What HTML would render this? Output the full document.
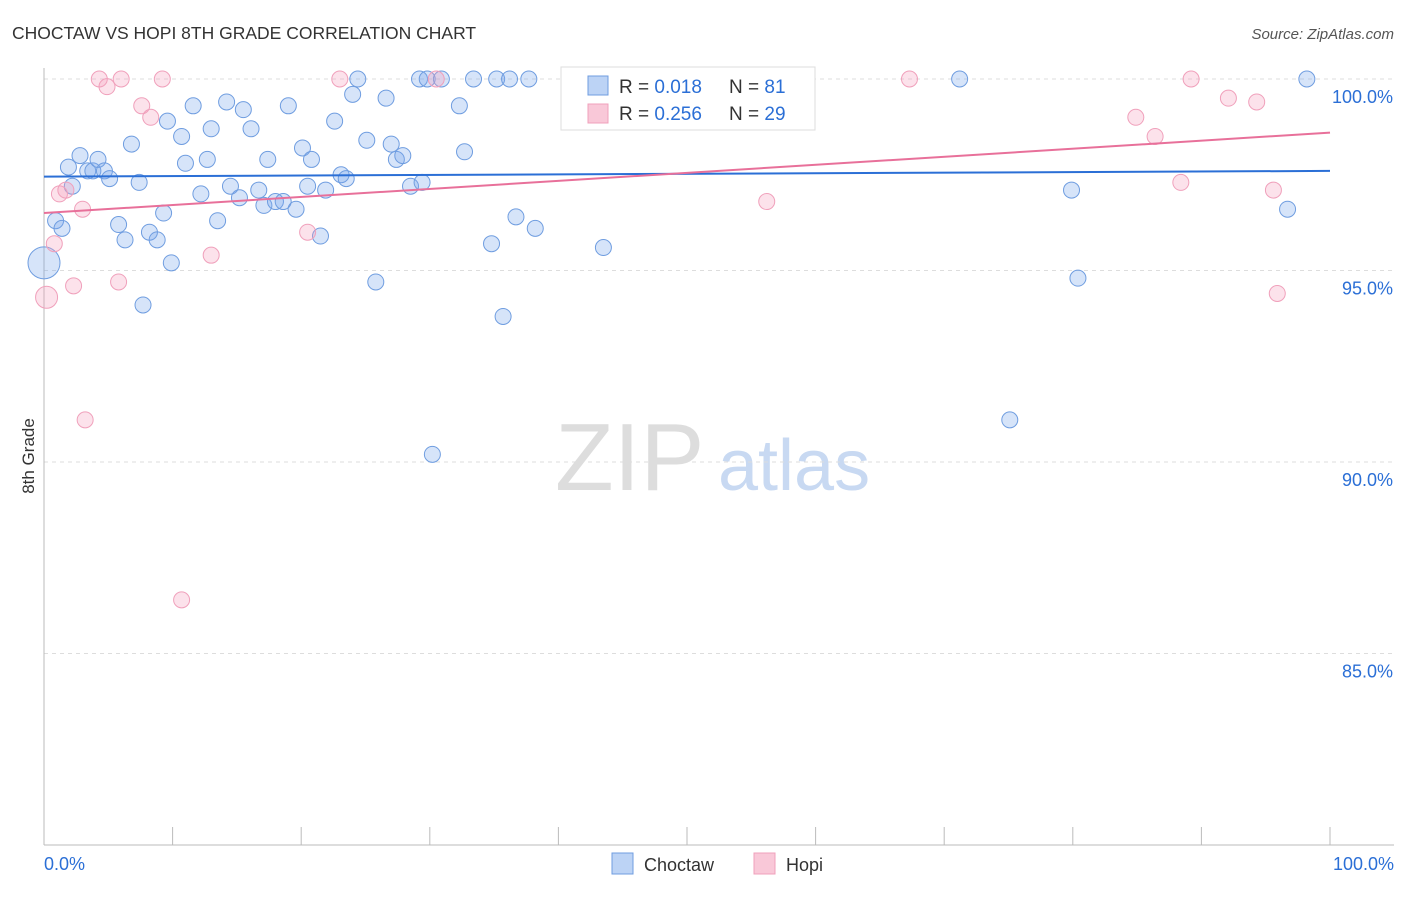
<!DOCTYPE html>
<html><head><meta charset="utf-8"><style>
body{margin:0;background:#fff;font-family:"Liberation Sans",sans-serif;}
svg text{font-family:"Liberation Sans",sans-serif;}
</style></head><body>
<svg id="chart" width="1406" height="892">
<text x="12" y="39" font-size="17.5" fill="#333">CHOCTAW VS HOPI 8TH GRADE CORRELATION CHART</text>
<text x="1394" y="39" font-size="15" fill="#555" text-anchor="end" font-style="italic">Source: ZipAtlas.com</text>
<text x="34" y="456" font-size="17" fill="#333" text-anchor="middle" transform="rotate(-90 34 456)">8th Grade</text>
<g>
<text x="555" y="490" font-size="96" fill="#ddd" font-family="Liberation Serif">ZIP</text>
<text x="718" y="490" font-size="72" fill="#c8d9f2">atlas</text>
</g>
<g id="grid"></g><g id="axes"></g><g id="pts"></g><g id="lines"></g>
<g>
<rect x="561" y="67" width="254" height="63" fill="#fff" stroke="#ddd"/>
<rect x="588" y="76" width="20" height="19" fill="#bcd3f5" stroke="#6f9de0"/>
<text x="619" y="93" font-size="19" fill="#333">R = <tspan fill="#2b6fd6">0.018</tspan><tspan x="729">N = </tspan><tspan fill="#2b6fd6">81</tspan></text>
<rect x="588" y="104" width="20" height="19" fill="#f9c8d8" stroke="#f0a0bb"/>
<text x="619" y="120" font-size="19" fill="#333">R = <tspan fill="#2b6fd6">0.256</tspan><tspan x="729">N = </tspan><tspan fill="#2b6fd6">29</tspan></text>
</g>
<g>
<rect x="612" y="853" width="21" height="21" fill="#bcd3f5" stroke="#6f9de0"/>
<text x="644" y="871" font-size="18" fill="#333">Choctaw</text>
<rect x="754" y="853" width="21" height="21" fill="#f9c8d8" stroke="#f0a0bb"/>
<text x="786" y="871" font-size="18" fill="#333">Hopi</text>
</g>
</svg>
<script>
const yTicks=[100,95,90,85];
const yTickLabels=["100.0%","95.0%","90.0%","85.0%"];
const xTicks=[0,10,20,30,40,50,60,70,80,90,100];
const blueX=[0.9,1.4,1.9,2.2,2.8,3.4,3.8,4.2,4.7,5.1,5.8,6.3,6.8,7.4,7.7,8.2,8.8,9.3,9.6,9.9,10.7,11.0,11.6,12.2,12.7,13.0,13.5,14.2,14.5,15.2,15.5,16.1,16.7,17.1,17.4,18.0,18.6,19.0,19.6,20.1,20.5,20.8,21.5,21.9,22.6,23.1,23.5,24.0,24.4,25.1,25.8,26.6,27.0,27.4,27.9,28.5,29.2,29.4,29.8,30.2,30.9,32.3,32.7,33.4,34.8,35.2,35.7,36.2,36.7,37.7,38.2,43.5,45.5,71.2,75.1,79.9,80.4,96.7,98.2,0.0];
const blueY=[96.3,96.1,97.7,97.2,98.0,97.6,97.6,97.9,97.6,97.4,96.2,95.8,98.3,97.3,94.1,96.0,95.8,96.5,98.9,95.2,98.5,97.8,99.3,97.0,97.9,98.7,96.3,99.4,97.2,96.9,99.2,98.7,97.1,96.7,97.9,96.8,96.8,99.3,96.6,98.2,97.2,97.9,95.9,97.1,98.9,97.5,97.4,99.6,100,98.4,94.7,99.5,98.3,97.9,98.0,97.2,100,97.3,100,90.2,100,99.3,98.1,100,95.7,100,93.8,100,96.4,100,96.1,95.6,100,100,91.1,97.1,94.8,96.6,100,95.2];
const pinkX=[0.2,0.8,1.2,1.7,2.3,3.0,3.2,4.3,4.9,5.8,6.0,7.6,8.3,9.2,10.7,13.0,20.5,23.0,30.5,51.1,56.2,67.3,84.9,86.4,88.4,89.2,92.1,94.3,95.6,95.9];
const pinkY=[94.3,95.7,97.0,97.1,94.6,96.6,91.1,100,99.8,94.7,100,99.3,99.0,100,86.4,95.4,96.0,100,100,100,96.8,100,99.0,98.5,97.3,100,99.5,99.4,97.1,94.4];
const blueTrend=[97.45,97.6];
const pinkTrend=[96.5,98.6];
const NS="http://www.w3.org/2000/svg";
const X=v=>44+v*12.86, Y=v=>79+(100-v)*38.3;
function mk(tag,parent,attrs){const e=document.createElementNS(NS,tag);for(const k in attrs)e.setAttribute(k,attrs[k]);document.getElementById(parent).appendChild(e);return e;}
yTicks.forEach((t,i)=>{
 const l=mk('line','grid',{x1:44,x2:1394,y1:Y(t),y2:Y(t),stroke:'#ddd','stroke-dasharray':'4,4'});
 
 
 const tx=mk('text','grid',{x:1393,y:Y(t)+24,'font-size':18,fill:'#2b6fd6','text-anchor':'end'});
 tx.textContent=yTickLabels[i];
 
 
});
const ya=mk('line','axes',{x1:44,x2:44,y1:68,y2:845,stroke:'#bbb'});


const xa=mk('line','axes',{x1:44,x2:1394,y1:845,y2:845,stroke:'#bbb'});


xTicks.forEach(t=>{
 const l=mk('line','axes',{x1:X(t),x2:X(t),y1:827,y2:845,stroke:'#bbb'});
 
 
});
const xl0=mk('text','axes',{x:44,y:870,'font-size':18,fill:'#2b6fd6'});xl0.textContent='0.0%';


const xl1=mk('text','axes',{x:1394,y:870,'font-size':18,fill:'#2b6fd6','text-anchor':'end'});xl1.textContent='100.0%';


blueX.forEach((v,i)=>{
 const c=mk('circle','pts',{cx:X(v),cy:Y(blueY[i]),r:i==blueX.length-1?16:8,fill:'rgba(120,165,235,0.3)',stroke:'#6f9de0','stroke-width':1});
 
 
});
pinkX.forEach((v,i)=>{
 const c=mk('circle','pts',{cx:X(v),cy:Y(pinkY[i]),r:i==0?11:8,fill:'rgba(245,160,190,0.3)',stroke:'#f0a0bb','stroke-width':1});
 
 
});
const bl=mk('line','lines',{x1:X(0),x2:X(100),y1:Y(blueTrend[0]),y2:Y(blueTrend[1]),stroke:'#2b6fd6','stroke-width':2});


const pl=mk('line','lines',{x1:X(0),x2:X(100),y1:Y(pinkTrend[0]),y2:Y(pinkTrend[1]),stroke:'#e8709a','stroke-width':2});


</script>
</body></html>
